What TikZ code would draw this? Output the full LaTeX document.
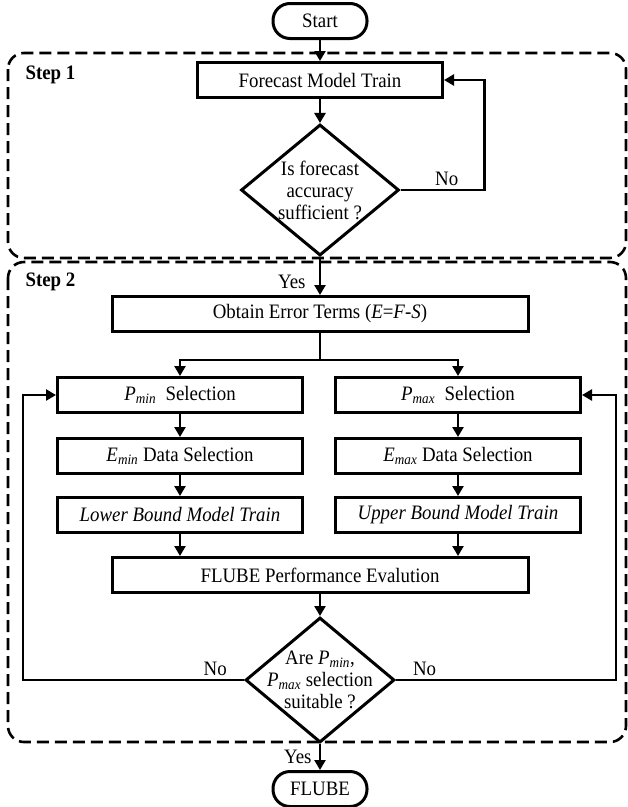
\documentclass[tikz,border=0pt]{standalone}
\usepackage{fontspec}
\setmainfont{Liberation Serif}[FakeStretch=0.92]
\usepackage{tikz}
\usetikzlibrary{arrows.meta,shapes.geometric}
\usetikzlibrary{positioning}
\tikzset{
    block/.style={
           rectangle,
           draw=black, line width=3pt,
           minimum height=35pt,
           inner sep=2pt,
           text centered,
           },
    terminal/.style={
           rectangle,
           rounded corners=17pt,
           draw=black, line width=3pt,
           minimum width=94pt,
           minimum height=35pt,
           inner sep=2pt,
           },
    decision/.style={
           diamond,
           draw=black, line width=3pt,
           inner sep=0pt,
           },
    stepframe/.style={
           draw=black, line width=2.6pt,
           dash pattern=on 12pt off 6pt,
           rounded corners=16pt,
           },
}
\newcommand{\psub}[2]{\textit{#1}\textsubscript{\textit{#2}}}

\begin{document}
\begin{tikzpicture}[->,>={Triangle[length=10pt,width=11pt]},
  x=1pt,y=1pt,line width=2.4pt,
  font=\fontsize{20.5}{22}\selectfont]
  \useasboundingbox (0,0) rectangle (628,-807);
  % dashed step frames
  \draw[stepframe,-] (8,-53) rectangle (626,-258);
  \draw[stepframe,-] (8,-262) rectangle (626,-742);
  \node[anchor=west] (step1) at (21,-75) {\textbf{Step 1}};
  \node[anchor=west] (step2) at (21,-282) {\textbf{Step 2}};

  \node[terminal] (Start) at (320,-21) {Start};
  \node[block,
 below of=Start,
 node distance=59pt,
 minimum width=245pt] (Forecast) {Forecast Model Train};
  \node[decision,
 below of=Forecast,
 node distance=110pt,
 minimum width=158pt,
 minimum height=131pt,
 label={[align=center]center:Is forecast\\accuracy\\sufficient ?}] (D1) {};
  \node[block,
 below of=D1,
 node distance=124pt,
 minimum width=416pt] (Obtain) {Obtain Error Terms (\textit{E}=\textit{F}-\textit{S})};
  \node[block,
 below of=Obtain,
 node distance=81pt,
 xshift=-140pt,
 minimum width=245pt] (Pmin) {\psub{P}{min}~ Selection};
  \node[block,
 below of=Obtain,
 node distance=81pt,
 xshift=138pt,
 minimum width=245pt] (Pmax) {\psub{P}{max}~ Selection};
  \node[block,
 below of=Pmin,
 node distance=61pt,
 minimum width=245pt] (Emin) {\psub{E}{min} Data Selection};
  \node[block,
 below of=Pmax,
 node distance=61pt,
 minimum width=245pt] (Emax) {\psub{E}{max} Data Selection};
  \node[block,
 below of=Emin,
 node distance=59pt,
 minimum width=245pt] (Lower) {\textit{Lower Bound Model Train}};
  \node[block,
 below of=Emax,
 node distance=59pt,
 minimum width=245pt] (Upper) {\textit{Upper Bound Model Train}};
  \node[block,
 below of=Obtain,
 node distance=261pt,
 minimum width=416pt] (Eval) {FLUBE Performance Evalution};
  \node[decision,
 below of=Eval,
 node distance=105pt,
 minimum width=149pt,
 minimum height=125pt,
 label={[align=center]center:Are \psub{P}{min},\\\psub{P}{max} selection\\suitable ?}] (D2) {};
  \node[terminal,
 below of=D2,
 node distance=109pt] (FLUBE) {FLUBE};
  \coordinate[below=27pt of Obtain.south] (split);

  \draw (Start) -- (Forecast);
  \draw (Forecast) -- (D1);
  \draw (D1.east) -- node[pos=0.55,above]{No} ++(84pt,0) |- (Forecast.east);
  \draw (D1) -- node[pos=0.65,left=10pt]{Yes} (Obtain);
  \draw[-] (Obtain) -- (split);
  \draw (split) -| (Pmin);
  \draw (split) -| (Pmax);
  \draw (Pmin) -- (Emin);
  \draw (Pmax) -- (Emax);
  \draw (Emin) -- (Lower);
  \draw (Emax) -- (Upper);
  \draw (Lower) -- (Lower |- Eval.north);
  \draw (Upper) -- (Upper |- Eval.north);
  \draw (Eval) -- (D2);
  \draw (D2.west) -- node[pos=0.13,above]{No} ++(-221pt,0) |- (Pmin.west);
  \draw (D2.east) -- node[pos=0.13,above]{No} ++(220pt,0) |- (Pmax.east);
  \draw (D2) -- node[left=4pt]{Yes} (FLUBE);
\end{tikzpicture}
\end{document}
